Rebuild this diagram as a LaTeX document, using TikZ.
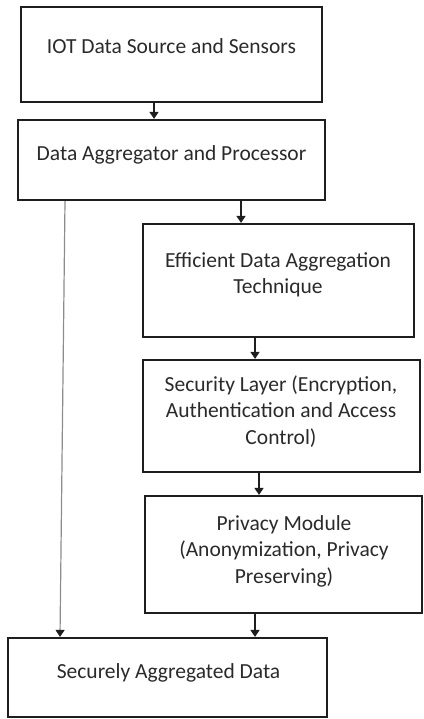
\documentclass[tikz,border=0pt]{standalone}
\usepackage{fontspec}
\setmainfont{Carlito}
\usetikzlibrary{arrows.meta,positioning}
\definecolor{textgray}{HTML}{2A2A2A}
\definecolor{boxblack}{HTML}{1E1E1E}
\definecolor{linegray}{HTML}{8C8C8C}
\tikzset{
  stage/.style={draw=boxblack, line width=2.2pt, inner sep=0pt},
  caption/.style={text=textgray, align=center, inner sep=0pt, font=\fontsize{21.5}{26.5}\selectfont},
  flow/.style={boxblack, line width=1.2pt, -{Triangle[length=7pt,width=9pt]}},
  bypass/.style={linegray, line width=1.2pt, -{Triangle[length=7pt,width=9pt,color=boxblack]}}
}

\begin{document}
\begin{tikzpicture}[x=1pt,y=-1pt]
  \useasboundingbox (0,0) rectangle (423,719);
  % boxes
  \node[stage, minimum width=301pt, minimum height=95pt] (iot) at (171.5,54.5) {};
  \node[stage, minimum width=307pt, minimum height=80pt] (aggr) at (171.5,160) {};
  \node[stage, minimum width=271pt, minimum height=113pt] (eff) at (278.5,280.5) {};
  \node[stage, minimum width=277pt, minimum height=112pt] (sec) at (281.5,416) {};
  \node[stage, minimum width=277pt, minimum height=117pt] (priv) at (283.5,554.5) {};
  \node[stage, minimum width=319pt, minimum height=79pt] (out) at (167.5,677.5) {};
  % texts
  \node[caption] (iottext) at (171.5,46.5) {IOT Data Source and Sensors};
  \node[caption] (aggrtext) at (171.5,155) {Data Aggregator and Processor};
  \node[caption] (efftext) at (278,275) {Efficient Data Aggregation\\Technique};
  \node[caption] (sectext) at (281,411.5) {Security Layer (Encryption,\\Authentication and Access\\Control)};
  \node[caption] (privtext) at (284,551) {Privacy Module\\(Anonymization, Privacy\\Preserving)};
  \node[caption] (outtext) at (168.5,673) {Securely Aggregated Data};
  % connectors
  \draw[flow] (154,0 |- iot.south) -- (154,0 |- aggr.north);
  \draw[flow] (241,0 |- aggr.south) -- (241,0 |- eff.north);
  \draw[flow] (255,0 |- eff.south) -- (255,0 |- sec.north);
  \draw[flow] (259,0 |- sec.south) -- (259,0 |- priv.north);
  \draw[flow] (255,0 |- priv.south) -- (255,0 |- out.north);
  \draw[bypass] (65,0 |- aggr.south) -- (60,0 |- out.north);
\end{tikzpicture}
\end{document}
